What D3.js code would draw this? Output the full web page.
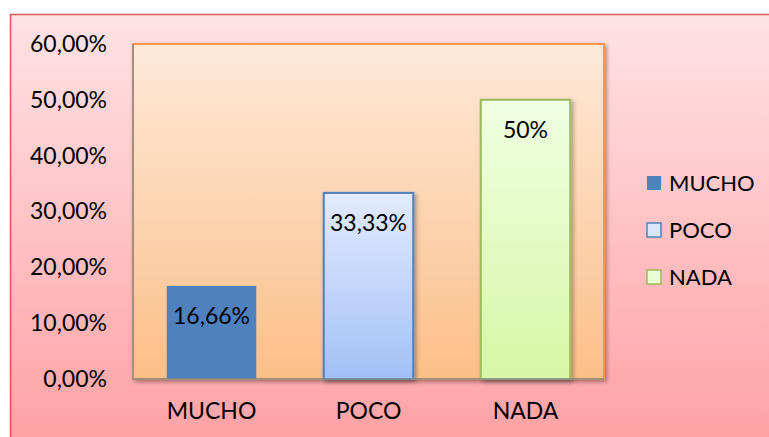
<!DOCTYPE html>
<html>
<head>
<meta charset="utf-8">
<script src="https://cdn.jsdelivr.net/npm/d3@7"></script>
<style>
  body { margin: 0; background: #fff; }
  text { font-family: Lato, "Open Sans", sans-serif; fill: #000; }
</style>
</head>
<body>
<div id="chart"></div>
<script>
const categories = ["MUCHO", "POCO", "NADA"];
const values = [16.66, 33.33, 50];
const valueLabels = ["16,66%", "33,33%", "50%"];
const yTicks = [0, 10, 20, 30, 40, 50, 60];

const W = 769, H = 437;
const PLOT = {LEFT: 133, TOP: 44, RIGHT: 604, BOTTOM: 379};

const svg = d3.select("#chart").append("svg")
    .attr("width", W).attr("height", H);

const defs = svg.append("defs");
function grad(id, top, bottom) {
  const g = defs.append("linearGradient").attr("id", id)
      .attr("x1", 0).attr("y1", 0).attr("x2", 0).attr("y2", 1);
  g.append("stop").attr("offset", "0%").attr("stop-color", top);
  g.append("stop").attr("offset", "100%").attr("stop-color", bottom);
}
grad("outerG", "#ffe3e5", "#ffa0a2");
grad("plotG", "#fde9d9", "#fcbf89");
grad("pocoG", "#e2ebff", "#a3c0f6");
grad("nadaG", "#f0ffe2", "#d6f7a6");

const sh = defs.append("filter").attr("id", "shadow")
    .attr("x", "-10%").attr("y", "-10%").attr("width", "130%").attr("height", "130%");
sh.append("feDropShadow").attr("dx", 2).attr("dy", 2).attr("stdDeviation", 2)
    .attr("flood-color", "#000").attr("flood-opacity", 0.35);

// outer chart area
svg.append("rect")
    .attr("x", 10.5).attr("y", 14.5).attr("width", W + 10).attr("height", H)
    .attr("fill", "url(#outerG)")
    .attr("stroke", "#d9585a").attr("stroke-width", 1.5);

const y = d3.scaleLinear().domain([0, 60]).range([PLOT.BOTTOM, PLOT.TOP]);
const x = d3.scaleBand().domain(categories)
    .range([PLOT.LEFT, PLOT.RIGHT])
    .paddingInner(0.43).paddingOuter(0.215);

// plot area
svg.append("rect")
    .attr("x", PLOT.LEFT).attr("y", PLOT.TOP)
    .attr("width", PLOT.RIGHT - PLOT.LEFT).attr("height", PLOT.BOTTOM - PLOT.TOP)
    .attr("fill", "url(#plotG)")
    .attr("stroke", "#f79646").attr("stroke-width", 2)
    .attr("filter", "url(#shadow)");

const fills = ["#4f81bd", "url(#pocoG)", "url(#nadaG)"];
const strokes = ["none", "#4f81bd", "#9bbb59"];
const legendFills = ["#4f81bd", "#dce7ff", "#eaffd4"];

svg.selectAll("rect.bar").data(values).enter().append("rect")
    .attr("class", "bar")
    .attr("x", (d, i) => x(categories[i]))
    .attr("y", d => y(d))
    .attr("width", x.bandwidth())
    .attr("height", d => y(0) - y(d))
    .attr("fill", (d, i) => fills[i])
    .attr("stroke", (d, i) => strokes[i])
    .attr("stroke-width", 2)
    .attr("filter", (d, i) => i ? "url(#shadow)" : null);

svg.selectAll("text.val").data(values).enter().append("text")
    .attr("class", "val")
    .attr("x", (d, i) => x(categories[i]) + x.bandwidth() / 2)
    .attr("y", d => y(d) + 38)
    .attr("text-anchor", "middle")
    .attr("font-size", 23)
    .text((d, i) => valueLabels[i]);

// axes lines (left + bottom)
svg.append("path")
    .attr("d", `M${PLOT.LEFT},${PLOT.TOP}V${PLOT.BOTTOM}H${PLOT.RIGHT}`)
    .attr("fill", "none").attr("stroke", "#8c8c8c").attr("stroke-width", 1.5);

const yAxis = svg.append("g")
    .attr("transform", `translate(${PLOT.LEFT},0)`)
    .call(d3.axisLeft(y).tickValues(yTicks).tickSize(0).tickPadding(26)
        .tickFormat(d => d3.format(".2f")(d).replace(".", ",") + "%"));
yAxis.select(".domain").remove();
yAxis.selectAll("text").attr("font-size", 23).style("font-family", "Lato, 'Open Sans', sans-serif");

const xAxis = svg.append("g")
    .attr("transform", `translate(0,${PLOT.BOTTOM})`)
    .call(d3.axisBottom(x).tickSize(0).tickPadding(24));
xAxis.select(".domain").remove();
xAxis.selectAll("text").attr("font-size", 23).style("font-family", "Lato, 'Open Sans', sans-serif");

// legend
const lg = svg.append("g");
const item = lg.selectAll("g").data(categories).enter().append("g")
    .attr("transform", (d, i) => `translate(647,${176 + i * 47})`);
item.append("rect")
    .attr("width", 14).attr("height", 14)
    .attr("fill", (d, i) => legendFills[i])
    .attr("stroke", (d, i) => i ? strokes[i] : "none")
    .attr("stroke-width", 1.5);
item.append("text")
    .attr("x", 22).attr("y", 15)
    .attr("font-size", 22)
    .text(d => d);
</script>
</body>
</html>
